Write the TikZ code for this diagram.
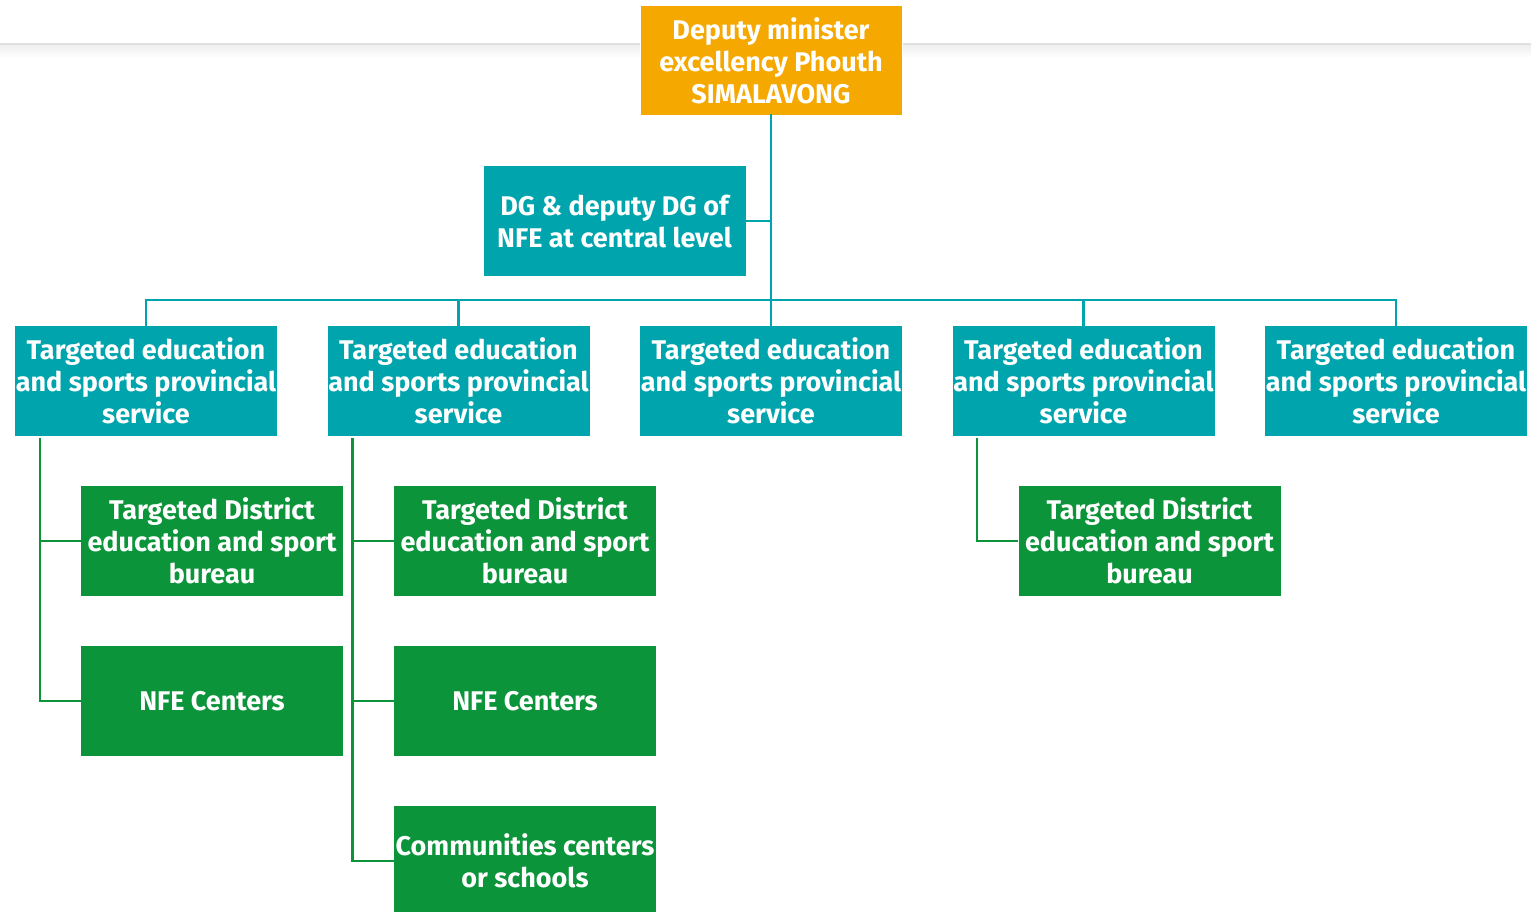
\documentclass[tikz,border=0pt]{standalone}
\usepackage{fontspec}
\setmainfont{Fira Sans}
\definecolor{orng}{HTML}{F5A800}
\definecolor{tealc}{HTML}{00A4AC}
\definecolor{grn}{HTML}{0B9439}
\begin{document}
\begin{tikzpicture}[x=1pt,y=-1pt,
  box/.style={minimum width=262pt,minimum height=110pt,inner sep=0pt,align=center,text=white,font=\fontsize{27}{32}\selectfont\bfseries},
  tbox/.style={box,fill=tealc},
  gbox/.style={box,fill=grn},
  tline/.style={draw=tealc,line width=2.8pt},
  gline/.style={draw=grn,line width=2.8pt}]
\useasboundingbox (0,0) rectangle (1531,912);
\clip (0,0) rectangle (1531,912);
% page shadow band
\fill[black!12] (0,43) rectangle (1531,46);
\shade[top color=black!6,bottom color=white] (0,46) rectangle (1531,58);
% nodes
\node[box,fill=orng,draw=white,line width=1pt] (top) at (771,61) {Deputy minister\\excellency Phouth\\SIMALAVONG};
\node[tbox] (dg) at (614.5,221) {DG \& deputy DG of\\NFE at central level};
\node[tbox] (p1) at (146,381) {Targeted education\\and sports provincial\\service};
\node[tbox] (p2) at (458.5,381) {Targeted education\\and sports provincial\\service};
\node[tbox] (p3) at (771,381) {Targeted education\\and sports provincial\\service};
\node[tbox] (p4) at (1083.5,381) {Targeted education\\and sports provincial\\service};
\node[tbox] (p5) at (1396,381) {Targeted education\\and sports provincial\\service};
\node[gbox] (d1) at (212,541) {Targeted District\\education and sport\\bureau};
\node[gbox] (n1) at (212,701) {NFE Centers};
\node[gbox] (d2) at (525,541) {Targeted District\\education and sport\\bureau};
\node[gbox] (n2) at (525,701) {NFE Centers};
\node[gbox] (c2) at (525,861) {Communities centers\\or schools};
\node[gbox] (d4) at (1149.5,541) {Targeted District\\education and sport\\bureau};
% teal connectors
\coordinate (bar) at (771,300);
\draw[tline] ([yshift=2pt]top.south) -- (p3.north);
\draw[tline] (dg.east) -- (dg.east -| top.south);
\draw[tline] (p1.north) |- (bar) -| (p5.north);
\draw[tline] (p2.north) -- (p2.north |- bar);
\draw[tline] (p4.north) -- (p4.north |- bar);
% green connectors
\coordinate (g1) at (40,438);
\coordinate (g2) at (352.5,438);
\coordinate (g4) at (977,438);
\draw[gline] (g1) |- (d1.west);
\draw[gline] (g1) |- (n1.west);
\draw[gline] (g2) |- (d2.west);
\draw[gline] (g2) |- (n2.west);
\draw[gline] (g2) |- (c2.west);
\draw[gline] (g4) |- (d4.west);
\end{tikzpicture}
\end{document}
